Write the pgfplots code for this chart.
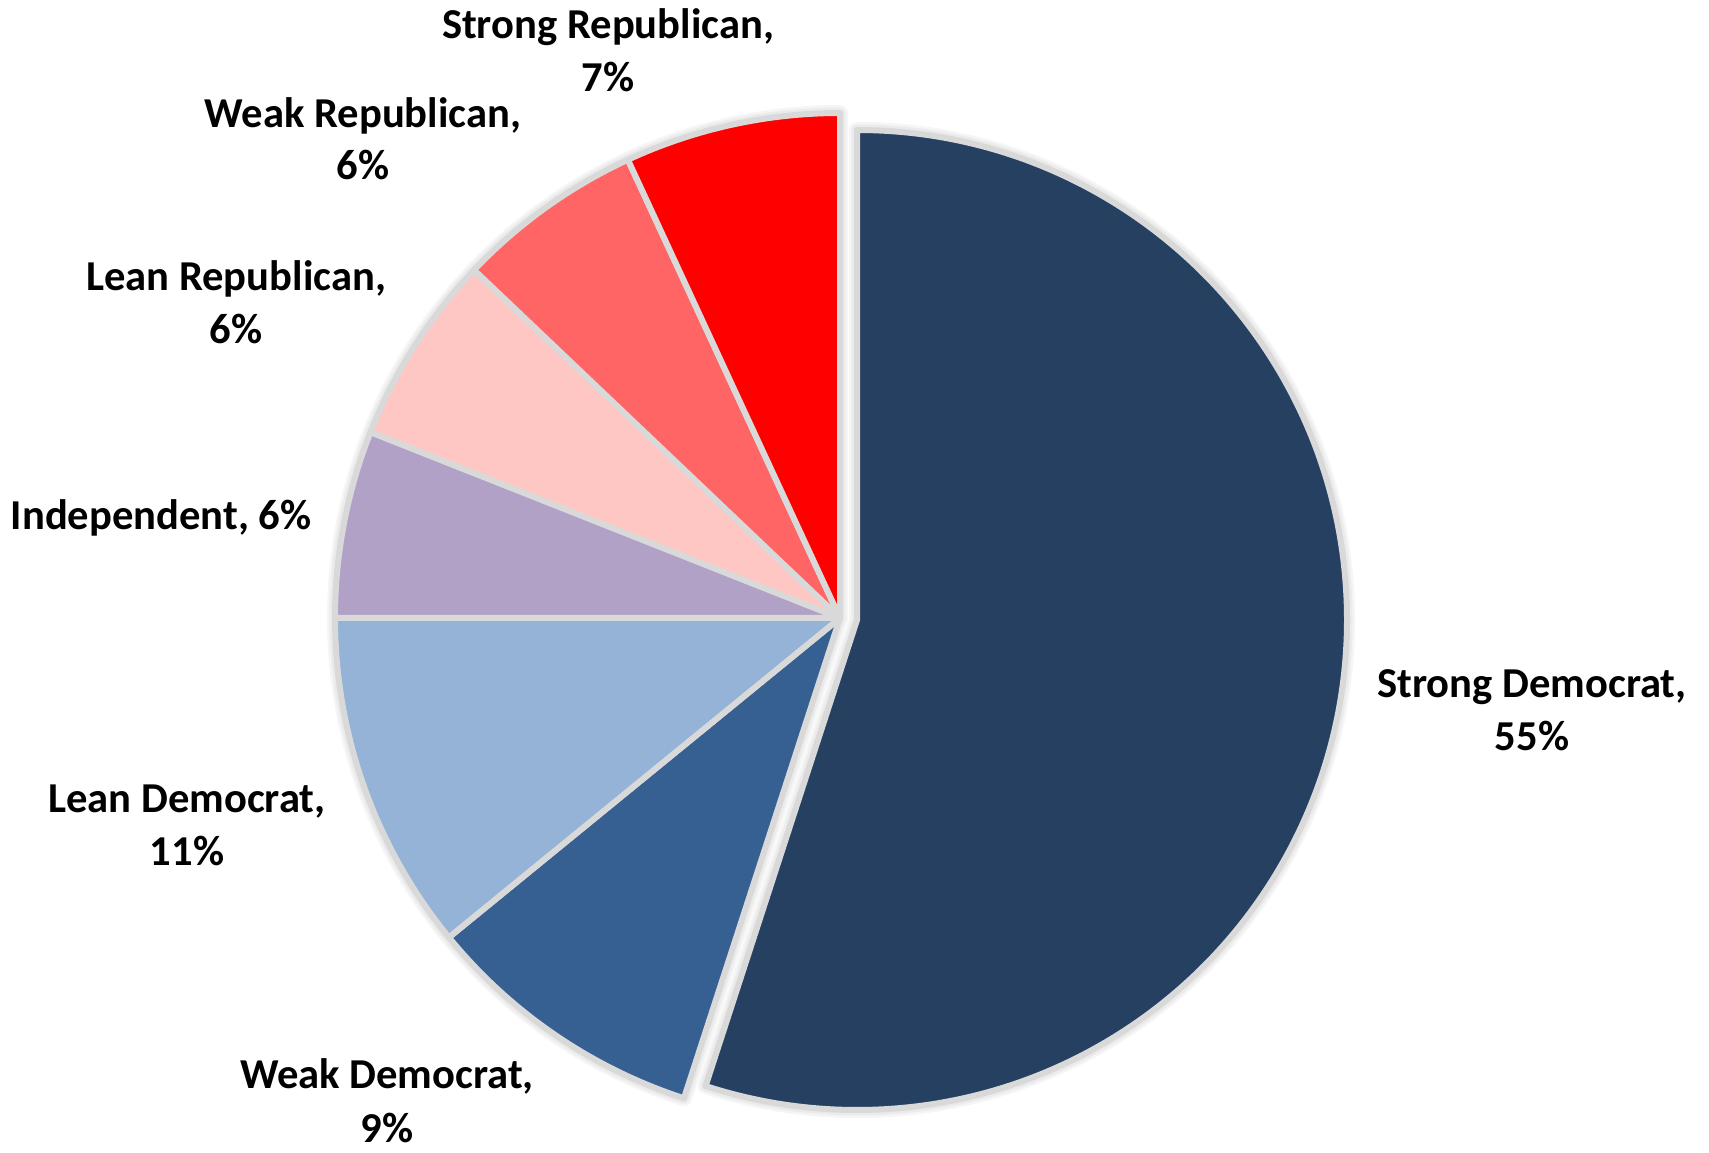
\documentclass[border=0pt]{standalone}
\usepackage{pgfplots}
\pgfplotsset{compat=1.18}
\usepackage{pgfplotstable}
\usepackage{fontspec}
\setmainfont{Carlito}

\definecolor{c0}{HTML}{264061}
\definecolor{c1}{HTML}{366092}
\definecolor{c2}{HTML}{95B3D7}
\definecolor{c3}{HTML}{B2A1C7}
\definecolor{c4}{HTML}{FFC7C3}
\definecolor{c5}{HTML}{FF6565}
\definecolor{c6}{HTML}{FF0000}

\tikzset{lbl/.style={font=\bfseries\fontsize{21.3pt}{25pt}\selectfont, inner sep=0pt, anchor=base, text=black}}

% share (%), slice centre (x,y) and radius, in picture pixels
\pgfplotstableread{
value cx cy r
55.0 857 532 490
9.1 840 534 505
10.9 840 534 505
6.0 840 534 505
6.1 840 534 505
6.0 840 534 505
6.9 840 534 505
}\piedata

\newcommand\pieloop[1]{%
  \def\cum{90}%
  \pgfplotsforeachungrouped \i in {0,...,6}{%
    \pgfplotstablegetelem{\i}{value}\of\piedata \let\v=\pgfplotsretval
    \pgfplotstablegetelem{\i}{cx}\of\piedata \let\cx=\pgfplotsretval
    \pgfplotstablegetelem{\i}{cy}\of\piedata \let\cy=\pgfplotsretval
    \pgfplotstablegetelem{\i}{r}\of\piedata \let\rad=\pgfplotsretval
    \pgfmathsetmacro\a{\cum}%
    \pgfmathsetmacro\b{\cum-3.6*\v}%
    \pgfmathsetmacro\rr{0.5*\rad}%
    \edef\cmd{\noexpand\path[#1, line join=round] (axis cs:\cx,\cy) -- ++(\a:\rr pt) arc[start angle=\a, end angle=\b, radius=\rr pt] -- cycle;}%
    \cmd
    \let\cum=\b
  }}

\begin{document}
\begin{tikzpicture}
\begin{axis}[hide axis, x=0.5pt, y=0.5pt, xmin=0, xmax=1709, ymin=0, ymax=1152,
  scale only axis, clip=false]
\path (axis cs:0,0) rectangle (axis cs:1709,1152);
\pieloop{draw=black!4, line width=8pt}
\pieloop{draw=black!8, line width=5.5pt}
\pieloop{fill=c\i, draw=black!15, line width=3pt}

\node[lbl] at (axis cs:608,1113) {Strong Republican,};
\node[lbl] at (axis cs:608,1060) {7\%};
\node[lbl] at (axis cs:363,1024) {Weak Republican,};
\node[lbl] at (axis cs:363,972) {6\%};
\node[lbl] at (axis cs:236,861) {Lean Republican,};
\node[lbl] at (axis cs:236,808) {6\%};
\node[lbl] at (axis cs:161,622) {Independent, 6\%};
\node[lbl] at (axis cs:187,339) {Lean Democrat,};
\node[lbl] at (axis cs:187,286) {11\%};
\node[lbl] at (axis cs:387,63) {Weak Democrat,};
\node[lbl] at (axis cs:387,10) {9\%};
\node[lbl] at (axis cs:1532,454) {Strong Democrat,};
\node[lbl] at (axis cs:1532,401) {55\%};
\end{axis}
\end{tikzpicture}
\end{document}
